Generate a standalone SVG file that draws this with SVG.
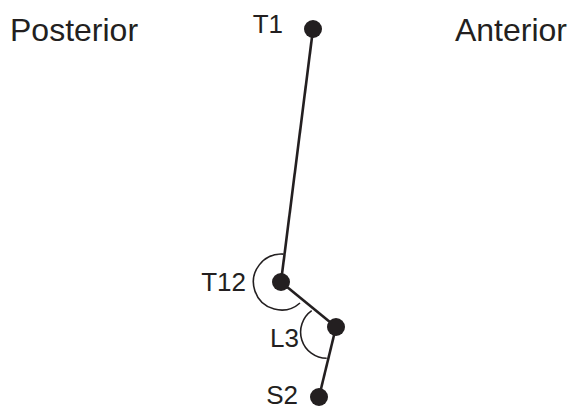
<svg xmlns="http://www.w3.org/2000/svg" width="585" height="410" viewBox="0 0 585 410">
<style>
.t{font-family:"Liberation Sans",Arial,Helvetica,sans-serif;fill:#231f20}
.big{font-size:32px}
.lab{font-size:26px;text-anchor:end}
.ln{stroke:#231f20;stroke-width:2.6;fill:none}
.arc{stroke:#231f20;stroke-width:1.6;fill:none}
.dot{fill:#231f20}
</style>
<rect width="585" height="410" fill="#fff"/>
<text class="t big" x="10" y="41">Posterior</text>
<text class="t big" x="567" y="41" text-anchor="end">Anterior</text>
<g id="connectors">
<line class="ln" x1="313" y1="29" x2="281" y2="282"/>
<line class="ln" x1="281" y1="282" x2="336" y2="327"/>
<line class="ln" x1="336" y1="327" x2="319" y2="397"/>
</g>
<g id="angle-T12"><path class="arc" d="M283.5 254.1 A28 28 0 1 0 300 303"/></g>
<g id="angle-L3"><path class="arc" d="M311.7 310.7 A26.2 26.2 0 0 0 326.7 358.3"/></g>
<g id="T1"><circle class="dot" cx="313" cy="29" r="9"/><text class="t lab" x="283" y="33">T1</text></g>
<g id="T12"><circle class="dot" cx="281" cy="282" r="9"/><text class="t lab" x="246" y="291">T12</text></g>
<g id="L3"><circle class="dot" cx="336" cy="327" r="9"/><text class="t lab" x="299" y="347">L3</text></g>
<g id="S2"><circle class="dot" cx="319" cy="397" r="9"/><text class="t lab" x="298" y="404">S2</text></g>
</svg>
